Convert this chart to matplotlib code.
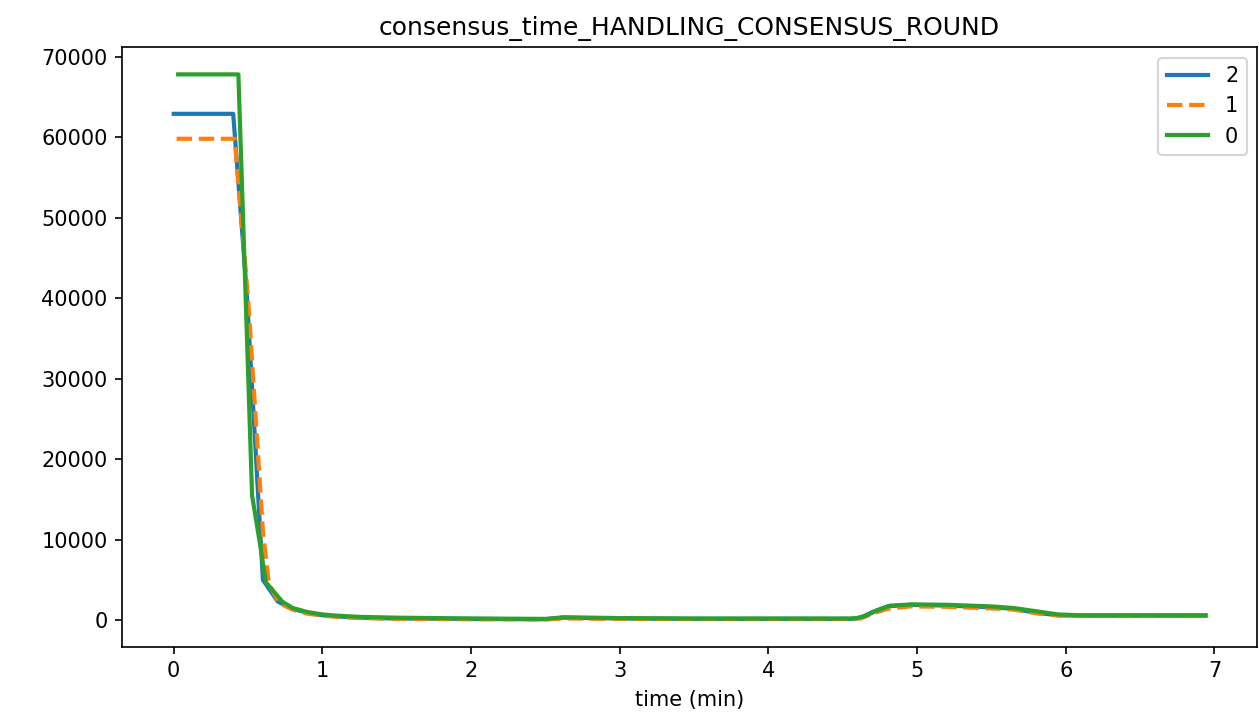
import matplotlib
matplotlib.use("Agg")
import matplotlib.pyplot as plt

# series "2" (blue)
t2 = [0.0, 0.40, 0.49, 0.60, 0.70, 0.80, 0.90, 1.00, 1.10, 1.25, 1.50, 2.00, 2.50, 2.62, 3.00,
      3.50, 4.00, 4.55, 4.62, 4.70, 4.80, 4.95, 5.20, 5.50, 5.65, 5.80, 5.95, 6.10, 6.50, 6.94]
v2 = [62900, 62900, 41000, 5000, 2300, 1400, 900, 600, 450, 300, 200, 150, 100, 300, 200,
      150, 150, 150, 300, 1000, 1700, 1900, 1800, 1600, 1400, 900, 600, 550, 550, 550]

# series "1" (orange, dashed)
t1 = [0.02, 0.41, 0.50, 0.60, 0.64, 0.71, 0.80, 0.90, 1.00, 1.10, 1.25, 1.50, 2.00, 2.50,
      2.62, 3.00, 3.50, 4.00, 4.55, 4.62, 4.70, 4.80, 4.95, 5.20, 5.50, 5.65, 5.80, 5.95, 6.10, 6.50, 6.94]
v1 = [59800, 59800, 40000, 11000, 4500, 2100, 1300, 800, 550, 400, 250, 150, 100, 80,
      200, 150, 120, 120, 120, 200, 800, 1400, 1700, 1650, 1450, 1300, 850, 550, 500, 500, 500]

# series "0" (green)
t0 = [0.03, 0.435, 0.527, 0.58, 0.62, 0.73, 0.80, 0.90, 1.00, 1.10, 1.25, 1.50, 2.00, 2.50,
      2.62, 3.00, 3.50, 4.00, 4.58, 4.65, 4.73, 4.82, 4.97, 5.20, 5.50, 5.65, 5.80, 5.95, 6.10, 6.50, 6.94]
v0 = [67800, 67800, 15500, 9500, 4700, 2300, 1500, 1000, 700, 550, 400, 300, 200, 150,
      350, 250, 200, 200, 200, 500, 1200, 1800, 1950, 1900, 1700, 1500, 1100, 700, 600, 600, 600]

fig = plt.figure(figsize=(1259 / 150, 725 / 150), dpi=150)
ax = fig.add_axes([0.097, 0.108, 0.9015, 0.827])

ax.plot(t2, v2, color="#1f77b4", lw=2, label="2")
ax.plot(t1, v1, color="#ff7f0e", lw=2, linestyle="--", label="1")
ax.plot(t0, v0, color="#2ca02c", lw=2, label="0")

ax.set_title("consensus_time_HANDLING_CONSENSUS_ROUND")
ax.set_xlabel("time (min)")
ax.legend(loc="upper right")

fig.savefig("out.png", dpi=150)
